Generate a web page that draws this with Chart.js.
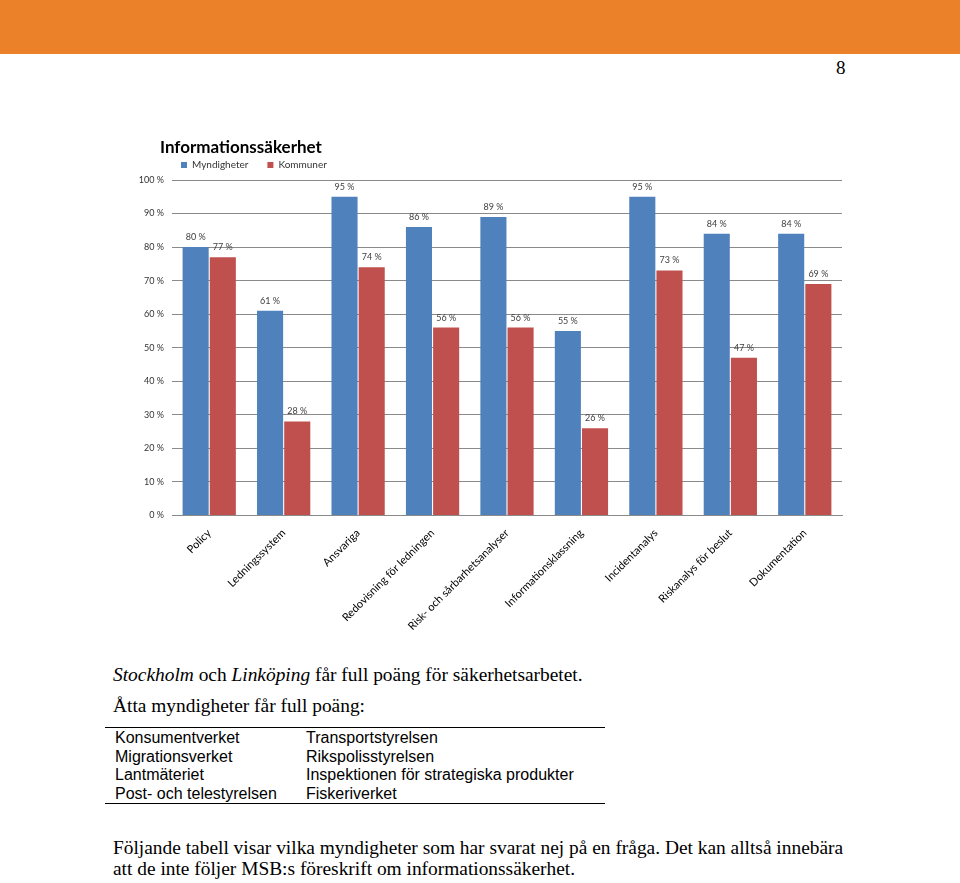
<!DOCTYPE html>
<html>
<head>
<meta charset="utf-8">
<script src="https://cdn.jsdelivr.net/npm/chart.js@4.4.1/dist/chart.umd.min.js"></script>
<style>
  html, body { margin: 0; padding: 0; background: #fff; }
  body { width: 960px; height: 883px; position: relative; overflow: hidden; }
  #topbar { position: absolute; left: 0; top: 0; width: 960px; height: 54px; background: #EB822A; }
  #pagenum { position: absolute; left: 836px; top: 56px; font: 19px "Liberation Serif", serif; color: #000; line-height: 24px; }
  #chartWrap { position: absolute; left: 100px; top: 130px; width: 760px; height: 520px; }
  .serif { position: absolute; left: 113px; font: 19.4px "Liberation Serif", "Times New Roman", serif; color: #000; white-space: nowrap; line-height: 20.5px; }
  #tbl { position: absolute; left: 105px; top: 727px; width: 500px; border-top: 1.5px solid #000; border-bottom: 1.5px solid #000; font: 16px "Liberation Sans", Arial, sans-serif; color: #000; }
  #tbl table { border-collapse: collapse; margin-left: 10px; margin-top: 1px; margin-bottom: 0px; }
  #tbl td { padding: 0; line-height: 18.5px; white-space: nowrap; }
  #tbl td.c1 { width: 191px; }
</style>
</head>
<body>
<div id="topbar"></div>
<div id="pagenum">8</div>
<div id="chartWrap"><canvas id="c" width="760" height="520"></canvas></div>

<div class="serif" style="top:665px"><i>Stockholm</i> och <i>Linköping</i> får full poäng för säkerhetsarbetet.</div>
<div class="serif" style="top:696px">Åtta myndigheter får full poäng:</div>
<div id="tbl">
  <table>
    <tr><td class="c1">Konsumentverket</td><td>Transportstyrelsen</td></tr>
    <tr><td class="c1">Migrationsverket</td><td>Rikspolisstyrelsen</td></tr>
    <tr><td class="c1">Lantmäteriet</td><td>Inspektionen för strategiska produkter</td></tr>
    <tr><td class="c1">Post- och telestyrelsen</td><td>Fiskeriverket</td></tr>
  </table>
</div>
<div class="serif" style="top:838px">Följande tabell visar vilka myndigheter som har svarat nej på en fråga. Det kan alltså innebära<br>att de inte följer MSB:s föreskrift om informationssäkerhet.</div>

<script>
const categories = ["Policy", "Ledningssystem", "Ansvariga", "Redovisning för ledningen", "Risk- och sårbarhetsanalyser", "Informationsklassning", "Incidentanalys", "Riskanalys för beslut", "Dokumentation"];
const myndigheter = [80, 61, 95, 86, 89, 55, 95, 84, 84];
const kommuner = [77, 28, 74, 56, 56, 26, 73, 47, 69];
const yTicks = [0, 10, 20, 30, 40, 50, 60, 70, 80, 90, 100];
const seriesNames = ["Myndigheter", "Kommuner"];
const chartTitle = "Informationssäkerhet";

const valueLabels = {
  id: 'valueLabels',
  afterDatasetsDraw(chart) {
    const ctx = chart.ctx;
    ctx.save();
    ctx.font = '9px Lato, sans-serif';
    ctx.fillStyle = '#404040';
    ctx.textAlign = 'center';
    ctx.textBaseline = 'middle';
    chart.data.datasets.forEach((ds, di) => {
      const meta = chart.getDatasetMeta(di);
      meta.data.forEach((bar, i) => {
        ctx.fillText(ds.data[i] + ' %', bar.x, bar.y - 10);
      });
    });
    ctx.restore();
  }
};

// shift title and legend blocks to the right (they start left of the plot, like the original)
const headerShift = {
  id: 'headerShift',
  afterLayout(chart) {
    if (chart.titleBlock) { chart.titleBlock.left += 30; chart.titleBlock.right += 30; }
    if (chart.legend) { chart.legend.left += 32; chart.legend.right += 32; }
  }
};

new Chart(document.getElementById('c'), {
  type: 'bar',
  data: {
    labels: categories,
    datasets: [
      { label: seriesNames[0], data: myndigheter, backgroundColor: '#4F81BD', borderWidth: 0, categoryPercentage: 0.73, barPercentage: 0.96 },
      { label: seriesNames[1], data: kommuner, backgroundColor: '#C0504D', borderWidth: 0, categoryPercentage: 0.73, barPercentage: 0.96 }
    ]
  },
  options: {
    responsive: false,
    animation: false,
    layout: { padding: { left: 30, right: 18, top: 0, bottom: 0 } },
    plugins: {
      title: {
        display: true, text: chartTitle, align: 'start', color: '#000',
        font: { family: 'Lato', size: 17, weight: 'bold', lineHeight: 1.2 },
        padding: { top: 7.8, bottom: -17.2 }
      },
      legend: {
        display: true, align: 'start', position: 'top',
        labels: { boxWidth: 6, boxHeight: 6, padding: 19, color: '#333', font: { family: 'Lato', size: 10 } }
      },
      tooltip: { enabled: false }
    },
    scales: {
      x: {
        grid: { display: false },
        border: { display: true, color: '#8a8a8a', width: 1 },
        ticks: { autoSkip: false, maxRotation: 45, minRotation: 45, padding: 3, color: '#000', font: { family: 'Lato', size: 11 } },
        afterFit(scale) { scale.height = 134.5; }
      },
      y: {
        min: 0, max: 100,
        afterBuildTicks(scale) { scale.ticks = yTicks.map(v => ({ value: v })); },
        grid: { color: '#8a8a8a', lineWidth: 1, drawTicks: false },
        border: { display: false },
        ticks: { padding: 8, color: '#333', font: { family: 'Lato', size: 9 }, callback: v => v + ' %' },
        afterFit(scale) { scale.width = 42; }
      }
    }
  },
  plugins: [valueLabels, headerShift]
});
</script>
</body>
</html>
